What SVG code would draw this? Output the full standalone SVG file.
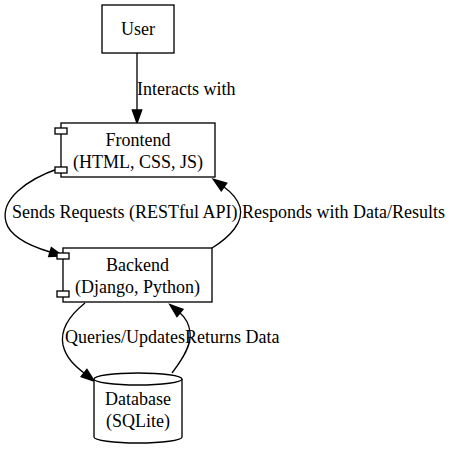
<svg xmlns="http://www.w3.org/2000/svg" width="452" height="453" viewBox="0 0 452 453">
<style>
.n{fill:#fff;stroke:#000;stroke-width:1.33}
.t{font-family:"Liberation Serif","Times New Roman",serif;font-size:18px;fill:#000}
.c{text-anchor:middle}
.e{fill:none;stroke:#000;stroke-width:1.33}
</style>
<defs>
<marker id="ah" markerUnits="userSpaceOnUse" markerWidth="14" markerHeight="10" refX="0" refY="4.7" orient="auto" overflow="visible">
<path d="M0,0 L13.3,4.7 L0,9.4 z" fill="#000" stroke="#000" stroke-width="1.33"/>
</marker>
</defs>
<rect width="452" height="453" fill="#fff"/>
<g id="connectors">
<path class="e" d="M137,53 L137,110" marker-end="url(#ah)"/>
<path class="e" d="M60,168 C25,180 0,200 6,222 C10,237 30,246 50,252" marker-end="url(#ah)"/>
<path class="e" d="M212,248 C230,237 244,222 240,207 C237,198 231,192 224,187" marker-end="url(#ah)"/>
<path class="e" d="M85,303 C70,315 60,330 63,345 C66,358 75,366 84,373" marker-end="url(#ah)"/>
<path class="e" d="M172,373 C182,360 192,345 190,332 C189,324 186,318 180,313" marker-end="url(#ah)"/>
<text class="t" x="137" y="95">Interacts with</text>
<text class="t" x="12" y="218">Sends Requests (RESTful API)</text>
<text class="t" x="242" y="218">Responds with Data/Results</text>
<text class="t" x="65" y="343">Queries/Updates</text>
<text class="t" x="185" y="343">Returns Data</text>
</g>
<g id="user">
<rect class="n" x="102" y="5" width="72" height="48"/>
<text class="t c" x="138" y="35">User</text>
</g>
<g id="frontend">
<rect class="n" x="61" y="123" width="154" height="54"/>
<rect class="n" x="55" y="128" width="12" height="6"/>
<rect class="n" x="55" y="167" width="12" height="6"/>
<text class="t c" x="138" y="146">Frontend</text>
<text class="t c" x="138" y="168">(HTML, CSS, JS)</text>
</g>
<g id="backend">
<rect class="n" x="63" y="248" width="149" height="54"/>
<rect class="n" x="57" y="253" width="12" height="6"/>
<rect class="n" x="57" y="291" width="12" height="6"/>
<text class="t c" x="137.5" y="271">Backend</text>
<text class="t c" x="137.5" y="293">(Django, Python)</text>
</g>
<g id="database">
<path class="n" d="M94,379 L94,437 A44,6 0 0 0 182,437 L182,379"/>
<ellipse class="n" cx="138" cy="379" rx="44" ry="6"/>
<text class="t c" x="138" y="405">Database</text>
<text class="t c" x="138" y="427">(SQLite)</text>
</g>
</svg>
